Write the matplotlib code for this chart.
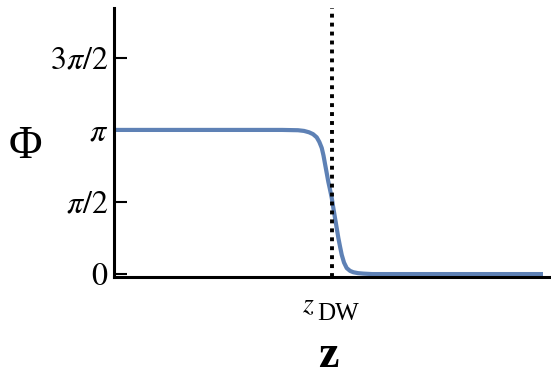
import numpy as np
import matplotlib.pyplot as plt
from matplotlib.transforms import offset_copy

plt.rcParams['font.family'] = ['Liberation Serif', 'DejaVu Serif']
plt.rcParams['mathtext.fontset'] = 'stix'

z_pts = [-21.8, -10.0, -5.0, -3.4, -2.8, -2.3, -1.9, -1.53, -1.27, -1.03, -0.85,
         -0.7, -0.53, -0.37, -0.2, -0.03, 0.13, 0.3, 0.47, 0.63, 0.8, 0.97,
         1.2, 1.47, 1.8, 2.13, 2.6, 3.13, 4.0, 10.0, 21.1]
phi_pts = [3.1416, 3.1416, 3.1416, 3.135, 3.12, 3.09, 3.05, 2.98, 2.88, 2.75, 2.58,
           2.40, 2.20, 2.01, 1.84, 1.66, 1.44, 1.22, 1.00, 0.79, 0.60, 0.42,
           0.25, 0.13, 0.07, 0.04, 0.02, 0.01, 0.0, 0.0, 0.0]
z_dw = 0.0
ytick_vals = [0, np.pi / 2, np.pi, 3 * np.pi / 2]
ytick_labels = [r'$0$', r'$\pi/2$', r'$\pi$', r'$3\pi/2$']

fig = plt.figure(figsize=(5.51, 3.79), dpi=100)
ax = fig.add_axes([0.207, 0.269, 0.793, 0.71])

ax.plot(z_pts, phi_pts, color='#5E81B5', lw=3.0, solid_capstyle='butt')
ax.axvline(z_dw, color='black', lw=2.8, linestyle=(0, (1.0, 1.3)),
           dash_capstyle='butt')

ax.set_xlim(-21.8, 21.9)
ax.set_ylim(-0.065, 5.80)

ax.spines['top'].set_visible(False)
ax.spines['right'].set_visible(False)
ax.spines['left'].set_linewidth(2.2)
ax.spines['bottom'].set_linewidth(2.2)

ax.set_yticks(ytick_vals)
ax.set_yticklabels(ytick_labels)
ax.set_xticks([z_dw])
ax.set_xticklabels([''])
ax.tick_params(axis='y', direction='in', length=9, width=1.5, pad=4, labelsize=23)
ax.tick_params(axis='x', direction='in', length=0)

# x tick label z_DW, subscript nearly as large as the z
xt = ax.get_xaxis_transform()
ax.text(z_dw, 0, r'$z$', fontsize=20, ha='left', va='baseline',
        transform=offset_copy(xt, fig, x=-30, y=-35, units='dots'))
ax.text(z_dw, 0, 'DW', fontsize=18, ha='left', va='baseline',
        transform=offset_copy(xt, fig, x=-15, y=-43, units='dots'))

ax.set_ylabel('Φ', fontsize=33, rotation=0, va='center', ha='center')
ax.yaxis.set_label_coords(-0.204, 0.483)
ax.set_xlabel('z', fontsize=33, fontweight='bold', va='bottom')
ax.xaxis.set_label_coords(0.49, -0.373)

fig.savefig('out.png', dpi=100)
